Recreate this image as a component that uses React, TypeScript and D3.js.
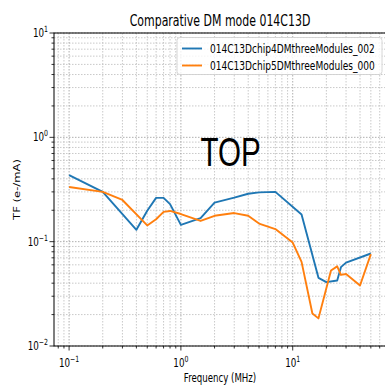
import * as d3 from 'd3';

const width = 385;
const height = 390;
const [left, right, top, bottom] = [54, 386, 33, 346];
// the source image was squeezed horizontally, so all text is too
const sx = 0.73;

const blueName = '014C13Dchip4DMthreeModules_002';
const blueFreq = [0.1, 0.2, 0.4, 0.5, 0.6, 0.7, 0.8, 1, 1.5, 2, 3, 4, 5, 7, 12, 17, 20, 25, 27, 30, 50];
const blueTF = [0.435, 0.3, 0.13, 0.198, 0.263, 0.263, 0.229, 0.145, 0.168, 0.237, 0.264, 0.288, 0.297, 0.3, 0.182, 0.045, 0.041, 0.0425, 0.057, 0.063, 0.077];

const orangeName = '014C13Dchip5DMthreeModules_000';
const orangeFreq = [0.1, 0.2, 0.3, 0.5, 0.6, 0.7, 0.8, 1, 1.5, 2, 3, 4, 5, 7, 10, 12, 15, 17, 22, 25, 27, 30, 40, 50];
const orangeTF = [0.334, 0.3, 0.251, 0.143, 0.164, 0.193, 0.197, 0.184, 0.158, 0.177, 0.188, 0.177, 0.149, 0.132, 0.098, 0.064, 0.0205, 0.0184, 0.053, 0.058, 0.048, 0.049, 0.038, 0.076];

const xMajor = [0.1, 1, 10];
const xMajorExp = ['−1', '0', '1'];
const yMajor = [0.01, 0.1, 1, 10];
const yMajorExp = ['−2', '−1', '0', '1'];

const series = [
    { name: blueName, freq: blueFreq, tf: blueTF, color: '#1f77b4' },
    { name: orangeName, freq: orangeFreq, tf: orangeTF, color: '#ff7f0e' }
];

const dv = 'DejaVu Sans, sans-serif';

function minorTicks(lo: number, hi: number) {
    const out: number[] = [];
    for (let e = Math.floor(Math.log10(lo)); e <= Math.ceil(Math.log10(hi)); e++) {
        for (let m = 2; m <= 9; m++) {
            const v = m * Math.pow(10, e);
            if (v > lo && v < hi) out.push(v);
        }
    }
    return out;
}

export default function App() {
    const x = d3.scaleLog().domain([0.0733, 68.3]).range([left, right]);
    const y = d3.scaleLog().domain([0.01, 10]).range([bottom, top]);
    const line = d3
        .line<[number, number]>()
        .x((d) => x(d[0]))
        .y((d) => y(d[1]));

    const xMinor = minorTicks(0.0733, 68.3);
    const yMinor = minorTicks(0.01, 10);

    return (
        <svg width={width} height={height} style={{ position: 'absolute', left: 0, top: 0, background: '#fff' }}>
            <defs>
                <clipPath id="plot">
                    <rect x={left} y={top} width={right - left} height={bottom - top} />
                </clipPath>
            </defs>

            {/* grid */}
            <g strokeWidth={0.8} strokeDasharray="1.5,1.5">
                {xMinor.map((v) => (
                    <line key={'gx' + v} x1={x(v)} x2={x(v)} y1={top} y2={bottom} stroke="#bbbbbb" />
                ))}
                {yMinor.map((v) => (
                    <line key={'gy' + v} x1={left} x2={right} y1={y(v)} y2={y(v)} stroke="#bbbbbb" />
                ))}
                {xMajor.map((v) => (
                    <line key={'Gx' + v} x1={x(v)} x2={x(v)} y1={top} y2={bottom} stroke="#9a9a9a" />
                ))}
                {yMajor.map((v) => (
                    <line key={'Gy' + v} x1={left} x2={right} y1={y(v)} y2={y(v)} stroke="#9a9a9a" />
                ))}
            </g>

            {/* lines */}
            <g clipPath="url(#plot)">
                {series.map((s) => (
                    <path
                        key={s.name}
                        d={line(s.freq.map((f, i) => [f, s.tf[i]] as [number, number])) || ''}
                        fill="none"
                        stroke={s.color}
                        strokeWidth={1.9}
                        strokeLinejoin="round"
                    />
                ))}
            </g>

            {/* spines */}
            <rect x={left} y={top} width={right - left} height={bottom - top} fill="none" stroke="#000" strokeWidth={1} />

            {/* ticks */}
            <g stroke="#000" strokeWidth={0.8}>
                {xMajor.map((v) => (
                    <line key={'tx' + v} x1={x(v)} x2={x(v)} y1={bottom} y2={bottom + 4.5} />
                ))}
                {xMinor.map((v) => (
                    <line key={'mx' + v} x1={x(v)} x2={x(v)} y1={bottom} y2={bottom + 2.5} />
                ))}
                {yMajor.map((v) => (
                    <line key={'ty' + v} x1={left - 4.5} x2={left} y1={y(v)} y2={y(v)} />
                ))}
                {yMinor.map((v) => (
                    <line key={'my' + v} x1={left - 2.5} x2={left} y1={y(v)} y2={y(v)} />
                ))}
            </g>

            {/* tick labels */}
            <g fontFamily={dv} fontSize={12} fill="#000">
                {xMajor.map((v, i) => (
                    <text key={'lx' + v} transform={`translate(${x(v)},${bottom + 21}) scale(${sx},1)`} textAnchor="middle">
                        10
                        <tspan fontSize={8.5} dy={-5}>
                            {xMajorExp[i]}
                        </tspan>
                    </text>
                ))}
                {yMajor.map((v, i) => (
                    <text key={'ly' + v} transform={`translate(${left - 6},${y(v) + 4})  scale(${sx},1)`} textAnchor="end">
                        10
                        <tspan fontSize={8.5} dy={-5}>
                            {yMajorExp[i]}
                        </tspan>
                    </text>
                ))}
            </g>

            {/* axis labels and title */}
            <text
                transform={`translate(${(left + right) / 2},26) scale(${sx},1)`}
                textAnchor="middle"
                fontFamily={dv}
                fontSize={15}
            >
                Comparative DM mode 014C13D
            </text>
            <text
                transform={`translate(${(left + right) / 2},382) scale(${sx},1)`}
                textAnchor="middle"
                fontFamily={dv}
                fontSize={11.8}
            >
                Frequency (MHz)
            </text>
            <text
                transform={`translate(20,${(top + bottom) / 2}) scale(${sx},1) rotate(-90)`}
                textAnchor="middle"
                fontFamily={dv}
                fontSize={11.6}
            >
                TF (e-/mA)
            </text>

            {/* TOP marker */}
            <text
                transform={`translate(230.7,166) scale(${sx},1)`}
                textAnchor="middle"
                fontFamily="Liberation Sans, Arial, sans-serif"
                fontSize={40.5}
            >
                TOP
            </text>

            {/* legend */}
            <rect x={177} y={37.5} width={205} height={37} rx={3} fill="#fff" fillOpacity={0.8} stroke="#cccccc" strokeWidth={0.8} />
            {series.map((s, i) => (
                <g key={'lg' + s.name} transform={`translate(0,${48.5 + i * 17})`}>
                    <line x1={182} x2={202} y1={0} y2={0} stroke={s.color} strokeWidth={1.9} />
                    <text transform={`translate(210,4.3) scale(${sx},1)`} fontFamily={dv} fontSize={12.4}>
                        {s.name}
                    </text>
                </g>
            ))}
        </svg>
    );
}
